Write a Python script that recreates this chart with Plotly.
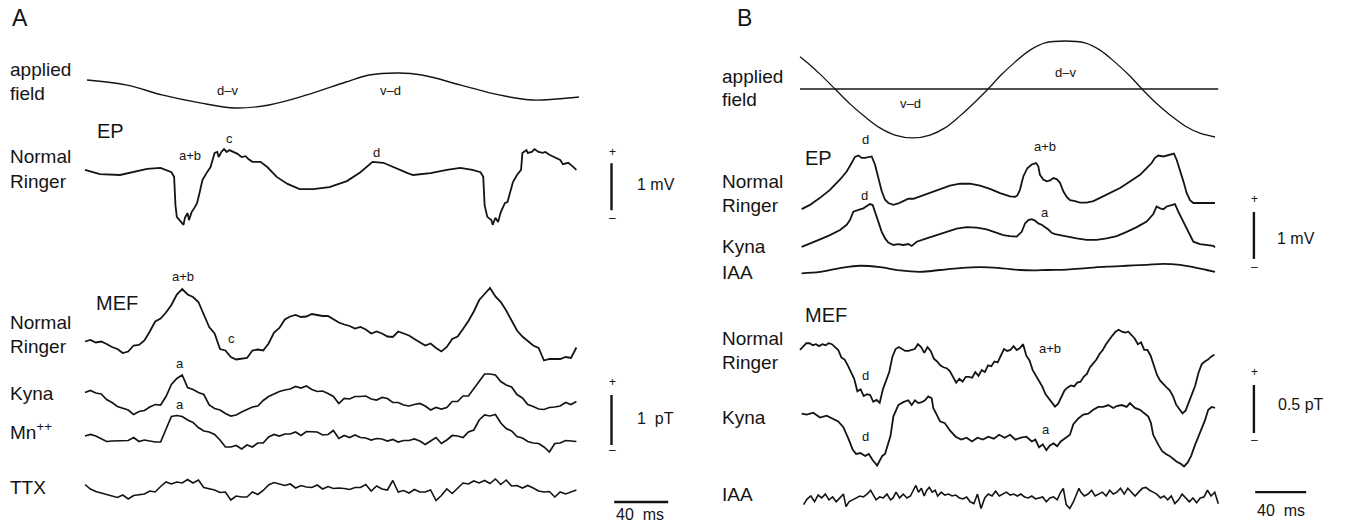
import plotly.graph_objects as go

# ======================= DATA =======================
# Panel A  (time in ms, EP in mV, MEF in pT, applied field in relative units)
A_FIELD_T = [1.5, 31.1, 57.0, 85.2, 111.1, 136.3, 164.4, 193.3, 210.4, 232.6, 249.6, 278.5, 306.7, 331.9, 348.9, 365.9]
A_FIELD = [0.59, 0.29, -0.29, -0.76, -1.06, -0.88, -0.29, 0.47, 0.88, 1.0, 0.88, 0.29, -0.29, -0.59, -0.53, -0.41]

A_EP_T = [0, 11, 26, 46, 56, 64, 66, 67, 68, 70, 73, 74, 76, 77, 79, 81, 83, 85, 87, 90,
          93, 96, 98, 99, 101, 103, 105, 107, 110, 113, 116, 119, 121, 124, 130, 135, 142, 150, 159, 169,
          181, 194, 204, 213, 221, 228, 239, 243, 256, 268, 278, 287, 293, 295, 296, 298, 301, 302, 304, 306,
          308, 311, 313, 315, 317, 320, 323, 324, 327, 328, 331, 333, 336, 339, 341, 344, 348, 352, 354, 358,
          361, 364]
A_EP = [0.11, 0.02, 0.0, 0.13, 0.15, 0.06, -0.04, -0.64, -0.89, -0.96, -1.06, -0.91, -0.81, -0.96, -0.79, -0.70, -0.60, -0.36, -0.11, 0.04,
        0.17, 0.47, 0.49, 0.38, 0.49, 0.55, 0.49, 0.53, 0.49, 0.45, 0.38, 0.40, 0.34, 0.28, 0.28, 0.17, -0.04, -0.19, -0.30, -0.30,
        -0.26, -0.13, 0.06, 0.28, 0.26, 0.17, 0.04, 0.0, 0.04, 0.11, 0.15, 0.11, 0.06, -0.04, -0.64, -0.89, -0.96, -1.06, -0.91, -1.0,
        -0.79, -0.60, -0.57, -0.36, -0.15, 0.0, 0.11, 0.47, 0.53, 0.47, 0.49, 0.55, 0.49, 0.47, 0.49, 0.43, 0.38, 0.32, 0.23, 0.26,
        0.19, 0.11]

A_MEF_DT = 4.0  # ms between samples
A_MEF_NORMAL = [0.01, 0.04, -0.01, 0.01, -0.04, -0.10, -0.14, -0.22, -0.19, -0.07,
                -0.06, 0.03, 0.21, 0.41, 0.47, 0.59, 0.74, 0.95, 1.06, 0.95,
                0.90, 0.80, 0.55, 0.30, 0.17, -0.14, -0.17, -0.30, -0.35, -0.34,
                -0.32, -0.17, -0.15, -0.17, -0.03, 0.19, 0.28, 0.45, 0.51, 0.54,
                0.50, 0.51, 0.56, 0.54, 0.52, 0.52, 0.46, 0.39, 0.35, 0.32,
                0.27, 0.30, 0.25, 0.17, 0.21, 0.17, 0.11, 0.10, 0.21, 0.17,
                0.13, 0.06, -0.01, -0.07, -0.03, -0.12, -0.19, -0.10, 0.06, 0.11,
                0.26, 0.42, 0.61, 0.84, 0.96, 1.08, 0.91, 0.80, 0.63, 0.42,
                0.23, 0.11, 0.01, -0.07, -0.12, -0.37, -0.34, -0.34, -0.34, -0.30,
                -0.32, -0.11]
A_MEF_KYNA = [0.01, 0.05, 0.00, -0.02, -0.13, -0.19, -0.27, -0.30, -0.34, -0.43,
              -0.37, -0.35, -0.28, -0.23, -0.24, -0.07, 0.17, 0.29, 0.36, 0.11,
              0.07, 0.01, -0.03, -0.24, -0.31, -0.34, -0.41, -0.46, -0.44, -0.38,
              -0.33, -0.28, -0.26, -0.15, -0.07, -0.02, 0.03, 0.06, 0.08, 0.13,
              0.10, 0.14, 0.07, 0.03, 0.04, -0.01, -0.07, -0.21, -0.11, -0.12,
              -0.07, -0.07, -0.06, -0.12, -0.14, -0.09, -0.11, -0.19, -0.19, -0.24,
              -0.26, -0.23, -0.21, -0.26, -0.34, -0.29, -0.32, -0.29, -0.17, -0.17,
              -0.06, -0.06, 0.09, 0.24, 0.38, 0.38, 0.36, 0.23, 0.16, 0.12,
              -0.03, -0.10, -0.23, -0.27, -0.32, -0.33, -0.29, -0.28, -0.26, -0.19,
              -0.23, -0.17]
A_MEF_MN = [0.00, 0.03, 0.00, -0.05, -0.11, -0.10, -0.10, -0.09, -0.09, -0.03,
            -0.11, -0.08, -0.10, -0.12, -0.12, 0.12, 0.39, 0.41, 0.39, 0.32,
            0.27, 0.17, 0.10, 0.08, 0.03, -0.08, -0.22, -0.22, -0.19, -0.26,
            -0.18, -0.22, -0.14, -0.14, -0.02, 0.03, 0.00, 0.04, 0.04, 0.08,
            0.01, 0.09, 0.08, 0.08, 0.02, 0.03, 0.11, -0.05, 0.01, -0.03,
            0.02, -0.03, -0.04, -0.08, -0.05, -0.06, -0.10, -0.07, -0.12, -0.09,
            -0.09, -0.06, -0.10, -0.17, -0.10, -0.03, -0.15, -0.08, 0.01, 0.00,
            -0.03, 0.08, 0.12, 0.32, 0.42, 0.40, 0.43, 0.26, 0.15, 0.10,
            -0.01, -0.04, -0.11, -0.14, -0.15, -0.22, -0.32, -0.15, -0.14, -0.09,
            -0.10, -0.11]
A_MEF_TTX = [0.17, 0.08, 0.03, 0.00, -0.03, -0.05, -0.09, -0.04, -0.12, -0.05,
             -0.03, -0.02, 0.04, 0.02, 0.13, 0.22, 0.18, 0.22, 0.20, 0.27,
             0.20, 0.26, 0.11, 0.09, 0.06, 0.01, 0.02, -0.14, -0.06, -0.08,
             -0.08, 0.02, -0.03, 0.05, 0.16, 0.21, 0.18, 0.15, 0.18, 0.10,
             0.15, 0.12, 0.11, 0.16, 0.08, 0.13, 0.09, 0.10, 0.09, 0.07,
             0.11, 0.11, 0.17, 0.04, 0.14, 0.08, 0.06, 0.25, 0.02, 0.05,
             0.00, 0.07, 0.02, 0.02, 0.06, -0.15, -0.05, 0.08, -0.01, 0.10,
             0.20, 0.18, 0.24, 0.20, 0.25, 0.19, 0.28, 0.17, 0.26, 0.14,
             0.15, 0.10, 0.15, 0.10, 0.04, 0.02, 0.03, -0.08, 0.02, -0.02,
             0.02, 0.06]

# Panel B
B_FIELD_T = [0, 7.8, 15.7, 27.5, 39.2, 51, 62.7, 74.5, 88.6, 102,
             113.7, 125.5, 137.3, 147.5, 156.9, 168.6, 180.4, 192.2, 207.8, 223.5,
             235.3, 247, 258.8, 268.2, 278.4, 290.2, 302, 313.7, 325.5]
B_FIELD = [0.67, 0.5, 0.31, 0, -0.31, -0.58, -0.81, -0.96, -1.02, -0.96,
           -0.81, -0.56, -0.27, 0, 0.27, 0.56, 0.81, 0.96, 1.0, 0.96,
           0.81, 0.56, 0.27, 0, -0.27, -0.54, -0.77, -0.92, -1.0]
B_FIELD_ZERO_T = [0, 328]
B_FIELD_ZERO = [0, 0]

B_EP_NORMAL_T = [1.3, 7.8, 15.7, 23.5, 31.4, 36.6, 40.5, 43.1, 45.8, 48.4,
                 51.0, 53.6, 56.2, 58.8, 61.4, 64.1, 66.7, 69.3, 73.2, 77.1,
                 81.0, 85.0, 88.9, 94.1, 102.0, 109.8, 117.6, 125.5, 133.3, 141.2,
                 149.0, 156.9, 164.7, 168.6, 170.5, 172.5, 175.2, 178.3, 181.7, 185.1,
                 186.9, 188.2, 190.8, 193.5, 196.1, 198.7, 201.3, 203.9, 206.5, 209.2,
                 211.8, 215.7, 219.6, 224.8, 230.1, 235.3, 243.1, 251.0, 258.8, 266.7,
                 271.9, 275.8, 278.4, 281.0, 285.0, 287.6, 290.2, 293.3, 295.4, 298.0,
                 300.7, 303.3, 305.9, 308.5, 313.7, 318.9, 325.5]
B_EP_NORMAL = [-0.13, -0.04, 0.11, 0.28, 0.50, 0.67, 0.85, 0.98, 1.01, 0.96,
               0.96, 0.98, 0.99, 0.82, 0.53, 0.25, 0.07, 0.0, -0.04, -0.01,
               0.04, 0.09, 0.09, 0.14, 0.21, 0.30, 0.37, 0.41, 0.41, 0.37,
               0.30, 0.21, 0.14, 0.13, 0.16, 0.28, 0.57, 0.74, 0.82, 0.85,
               0.78, 0.60, 0.50, 0.46, 0.48, 0.53, 0.51, 0.43, 0.25, 0.13,
               0.06, 0.04, 0.01, 0.01, 0.04, 0.11, 0.21, 0.32, 0.46, 0.60,
               0.74, 0.85, 0.96, 1.01, 0.99, 1.01, 1.03, 1.05, 0.92, 0.71,
               0.46, 0.21, 0.06, 0.0, 0.0, 0.0, 0.0]
B_EP_KYNA_T = [1.3, 7.8, 15.7, 23.5, 31.4, 36.6, 39.2, 41.8, 44.4, 47.1,
               49.7, 52.3, 54.9, 57.0, 58.8, 61.4, 64.1, 66.7, 69.3, 73.2,
               77.1, 81.0, 85.0, 87.6, 91.5, 99.3, 107.2, 115.0, 122.9, 130.7,
               138.6, 146.4, 154.2, 159.5, 164.7, 169.9, 173.9, 176.5, 179.1, 181.7,
               184.3, 186.9, 189.5, 192.2, 194.8, 197.4, 200.0, 203.9, 209.2, 217.0,
               224.8, 232.7, 240.5, 248.4, 256.2, 264.1, 271.9, 277.1, 279.7, 282.4,
               285.0, 287.6, 291.5, 294.1, 296.7, 300.7, 304.6, 308.5, 313.7, 318.9,
               324.2, 325.5]
B_EP_KYNA = [-0.04, 0.04, 0.12, 0.21, 0.32, 0.43, 0.53, 0.71, 0.74, 0.76,
             0.78, 0.82, 0.87, 0.85, 0.71, 0.50, 0.28, 0.14, 0.05, 0.0,
             0.02, 0.0, 0.02, -0.02, 0.07, 0.14, 0.21, 0.28, 0.35, 0.38,
             0.37, 0.33, 0.26, 0.21, 0.19, 0.18, 0.28, 0.46, 0.53, 0.55,
             0.52, 0.46, 0.43, 0.38, 0.33, 0.26, 0.23, 0.21, 0.18, 0.14,
             0.11, 0.11, 0.14, 0.19, 0.28, 0.38, 0.50, 0.66, 0.82, 0.78,
             0.76, 0.82, 0.85, 0.87, 0.71, 0.50, 0.28, 0.07, 0.02, 0.0,
             -0.02, -0.05]
B_EP_IAA_T = [1.3, 15.7, 31.4, 47.1, 62.7, 78.4, 94.1, 109.8, 125.5, 141.2,
              156.9, 172.5, 183.0, 193.5, 209.2, 224.8, 240.5, 256.2, 271.9, 285.0,
              298.0, 308.5, 318.9, 325.5]
B_EP_IAA = [-0.07, -0.04, 0.04, 0.09, 0.06, -0.01, -0.04, 0.0, 0.04, 0.06,
            0.04, 0.0, -0.01, 0.0, 0.01, 0.04, 0.07, 0.09, 0.11, 0.13,
            0.11, 0.06, 0.0, -0.04]

B_MEF_DT = 2.5  # ms between samples
B_MEF_NORMAL = [0.24, 0.27, 0.31, 0.31, 0.29, 0.30, 0.28, 0.30, 0.29, 0.31,
                0.30, 0.27, 0.24, 0.16, 0.14, 0.08, 0.01, -0.06, -0.19, -0.17,
                -0.24, -0.22, -0.23, -0.30, -0.28, -0.31, -0.17, -0.09, 0.01, 0.17,
                0.25, 0.27, 0.25, 0.23, 0.23, 0.24, 0.25, 0.30, 0.27, 0.21,
                0.27, 0.23, 0.15, 0.12, 0.08, 0.06, 0.05, 0.02, -0.04, -0.10,
                -0.06, -0.09, -0.04, -0.04, -0.05, 0.01, -0.03, 0.03, 0.01, 0.08,
                0.07, 0.12, 0.11, 0.18, 0.25, 0.23, 0.24, 0.28, 0.24, 0.26,
                0.30, 0.18, 0.13, 0.03, -0.03, -0.08, -0.14, -0.22, -0.26, -0.31,
                -0.35, -0.32, -0.25, -0.18, -0.15, -0.13, -0.14, -0.10, -0.09, -0.04,
                -0.01, 0.06, 0.10, 0.14, 0.20, 0.24, 0.30, 0.35, 0.39, 0.43,
                0.45, 0.43, 0.42, 0.43, 0.39, 0.36, 0.30, 0.32, 0.24, 0.24,
                0.18, 0.08, -0.02, -0.08, -0.12, -0.15, -0.18, -0.24, -0.33, -0.38,
                -0.42, -0.39, -0.30, -0.23, -0.13, 0.00, 0.09, 0.12, 0.14, 0.17,
                0.19]
B_MEF_KYNA_T = [1.3, 5.3, 10.4, 15.7, 20.9, 26.1, 30.0, 34.0, 35.5, 38.3,
                41.2, 44.0, 47.4, 51.1, 54.0, 56.8, 60.5, 62.4, 64.5, 66.7,
                69.0, 71.0, 73.2, 77.1, 81.0, 84.9, 87.6, 90.2, 92.8, 95.5,
                98.0, 100.6, 103.3, 104.5, 107.2, 109.8, 113.6, 117.9, 122.1, 126.4,
                130.7, 134.9, 139.2, 143.5, 147.7, 152.0, 156.2, 160.5, 164.8, 169.0,
                173.3, 177.6, 181.8, 184.6, 187.5, 190.4, 193.2, 196.0, 198.9, 201.7,
                204.5, 208.8, 211.7, 214.4, 218.3, 222.2, 226.1, 230.0, 234.0, 237.9,
                241.8, 245.7, 248.4, 252.3, 256.2, 258.8, 262.7, 266.7, 270.6, 273.2,
                275.3, 277.0, 281.3, 284.1, 287.0, 289.8, 292.6, 295.5, 298.4, 301.2,
                304.0, 306.8, 309.7, 312.5, 315.5, 317.6, 320.2, 322.9, 325.5]
B_MEF_KYNA = [0.17, 0.16, 0.18, 0.13, 0.15, 0.12, 0.09, 0.03, -0.01, -0.10,
              -0.20, -0.25, -0.24, -0.27, -0.25, -0.31, -0.37, -0.32, -0.27, -0.25,
              -0.16, -0.06, 0.14, 0.26, 0.29, 0.31, 0.26, 0.31, 0.28, 0.29,
              0.31, 0.35, 0.33, 0.23, 0.16, 0.09, 0.07, -0.01, -0.07, -0.10,
              -0.08, -0.12, -0.08, -0.10, -0.07, -0.09, -0.05, -0.08, -0.05, -0.10,
              -0.08, -0.07, -0.12, -0.10, -0.18, -0.15, -0.21, -0.16, -0.14, -0.17,
              -0.12, -0.08, -0.05, 0.06, 0.12, 0.16, 0.17, 0.21, 0.24, 0.24,
              0.26, 0.23, 0.25, 0.26, 0.24, 0.28, 0.23, 0.21, 0.17, 0.14,
              0.07, -0.05, -0.16, -0.22, -0.25, -0.27, -0.30, -0.33, -0.35, -0.38,
              -0.34, -0.27, -0.16, -0.07, 0.03, 0.10, 0.21, 0.24, 0.23]
B_MEF_IAA_T = [2.8, 5.7, 8.5, 11.4, 14.2, 17.0, 19.9, 22.7, 25.6, 28.4,
               31.3, 34.1, 36.1, 38.4, 41.2, 44.0, 46.9, 49.7, 52.6, 55.4,
               57.7, 59.7, 62.5, 65.3, 68.2, 71.0, 73.0, 75.3, 78.1, 81.0,
               83.8, 86.6, 88.9, 90.9, 92.9, 95.2, 97.4, 99.4, 101.4, 103.7,
               106.0, 108.0, 110.8, 113.6, 116.5, 119.3, 122.2, 125.0, 127.8, 130.7,
               133.5, 136.4, 139.2, 142.0, 144.9, 147.7, 150.6, 153.4, 156.3, 159.1,
               161.9, 164.8, 167.6, 170.5, 173.3, 176.1, 179.0, 181.8, 184.7, 187.5,
               190.3, 193.2, 196.0, 198.9, 201.7, 204.5, 206.5, 208.8, 211.6, 214.5,
               217.3, 218.8, 220.2, 223.0, 225.9, 228.7, 231.5, 234.4, 237.2, 240.1,
               242.9, 245.7, 248.6, 251.4, 254.3, 257.1, 259.9, 262.8, 265.6, 268.5,
               271.3, 274.1, 277.0, 279.8, 282.7, 285.5, 288.4, 291.2, 294.0, 296.9,
               299.7, 302.6, 305.4, 308.2, 311.1, 313.9, 316.8, 319.6, 322.4, 325.3,
               328.1]
B_MEF_IAA = [-0.09, -0.03, 0, -0.06, 0.01, -0.02, 0.02, -0.04, -0.01, -0.06,
             -0.02, 0.02, -0.11, -0.06, -0.04, -0.02, 0, -0.01, 0.02, 0.06,
             0, -0.04, -0.01, -0.02, 0.02, -0.04, -0.02, 0.04, -0.02, 0.02,
             -0.02, 0, 0.06, 0.11, 0.04, 0.08, 0, 0.06, 0.09, 0.04,
             0.06, 0, 0.04, 0.01, 0.02, 0, 0.01, -0.02, -0.03, -0.01,
             -0.06, -0.08, 0.02, -0.13, -0.02, 0.02, 0, 0.05, 0, 0.02,
             0.04, 0.01, 0.02, 0, 0.02, -0.01, -0.02, 0, -0.03, -0.02,
             -0.01, -0.06, -0.02, -0.01, -0.04, 0.04, 0.08, -0.09, -0.13, -0.06,
             0.02, 0.08, 0.04, 0, 0.02, 0.06, 0, 0.02, 0.04, 0,
             0.06, 0.02, 0.04, 0.08, 0.02, 0.08, 0.04, 0, 0.04, 0.08,
             0.09, 0.06, 0.04, 0.02, -0.02, 0, -0.04, 0, -0.08, -0.04,
             0.02, -0.02, -0.06, -0.02, -0.07, -0.02, -0.01, 0.06, 0, 0.04,
             -0.08]

# Calibration bars (in data units)
A_BAR_MV = 1.0
A_BAR_PT = 1.0
B_BAR_MV = 1.0
B_BAR_PT = 0.5
TIME_BAR_MS = 40

# ======================= LAYOUT =======================
W, H = 1348, 526
FONT = "Liberation Sans, Arial, Helvetica, sans-serif"
INK = "#141414"

# panel: (left pixel of t=0, pixels per ms)
PANELS = {"A": (85, 1.35), "B": (800, 1.275)}
# row name: (panel, baseline pixel, pixels per unit, line width, shape)
ROWS = {
    "A_field":  ("A", 90, 17, 1.4, "spline"),
    "A_ep":     ("A", 175, 47, 1.8, "linear"),
    "A_mef_nr": ("A", 342, 50, 1.8, "linear"),
    "A_kyna":   ("A", 393, 50, 1.7, "linear"),
    "A_mn":     ("A", 436, 50, 1.7, "linear"),
    "A_ttx":    ("A", 493, 50, 1.6, "linear"),
    "B_field":  ("B", 89, 48, 1.3, "spline"),
    "B_ep_nr":  ("B", 203, 47, 1.8, "linear"),
    "B_ep_ky":  ("B", 245, 47, 1.8, "linear"),
    "B_ep_iaa": ("B", 270, 47, 1.8, "spline"),
    "B_mef_nr": ("B", 373, 96, 1.8, "linear"),
    "B_mef_ky": ("B", 430, 96, 1.8, "linear"),
    "B_mef_iaa": ("B", 496, 96, 1.6, "linear"),
}

fig = go.Figure()

xaxis_id = {"A": "x", "B": "x2"}
for name, (x0, s) in PANELS.items():
    key = "xaxis" if name == "A" else "xaxis2"
    ax = dict(range=[-x0 / s, (W - x0) / s], visible=False, showgrid=False,
              zeroline=False, fixedrange=True, domain=[0, 1])
    if name == "B":
        ax["overlaying"] = "x"
    fig.layout[key] = ax

row_axis = {}
for i, (name, (panel, base, gain, lw, shp)) in enumerate(ROWS.items()):
    idx = "" if i == 0 else str(i + 1)
    key = "yaxis" + idx
    ax = dict(range=[(base - H) / gain, base / gain], visible=False, showgrid=False,
              zeroline=False, fixedrange=True, domain=[0, 1], anchor=xaxis_id[panel])
    if i > 0:
        ax["overlaying"] = "y"
    fig.layout[key] = ax
    row_axis[name] = "y" + idx


def add_line(row, t, v, width=None, shape=None):
    panel, base, gain, lw, shp = ROWS[row]
    fig.add_trace(go.Scatter(
        x=t, y=v, mode="lines", xaxis=xaxis_id[panel], yaxis=row_axis[row],
        line=dict(color=INK, width=width or lw, shape=shape or shp),
        hoverinfo="skip", showlegend=False))


def grid(n, dt):
    return [k * dt for k in range(n)]


# Panel A traces
add_line("A_field", A_FIELD_T, A_FIELD)
add_line("A_ep", A_EP_T, A_EP)
add_line("A_mef_nr", grid(len(A_MEF_NORMAL), A_MEF_DT), A_MEF_NORMAL)
add_line("A_kyna", grid(len(A_MEF_KYNA), A_MEF_DT), A_MEF_KYNA)
add_line("A_mn", grid(len(A_MEF_MN), A_MEF_DT), A_MEF_MN)
add_line("A_ttx", grid(len(A_MEF_TTX), A_MEF_DT), A_MEF_TTX)

# Panel B traces
add_line("B_field", B_FIELD_T, B_FIELD)
add_line("B_field", B_FIELD_ZERO_T, B_FIELD_ZERO, shape="linear")
add_line("B_ep_nr", B_EP_NORMAL_T, B_EP_NORMAL)
add_line("B_ep_ky", B_EP_KYNA_T, B_EP_KYNA)
add_line("B_ep_iaa", B_EP_IAA_T, B_EP_IAA)
add_line("B_mef_nr", grid(len(B_MEF_NORMAL), B_MEF_DT), B_MEF_NORMAL)
add_line("B_mef_ky", B_MEF_KYNA_T, B_MEF_KYNA)
add_line("B_mef_iaa", B_MEF_IAA_T, B_MEF_IAA)

# Calibration bars: (row, time of bar, lower value)
add_line("A_ep", [390, 390], [-0.75, -0.75 + A_BAR_MV], width=2.4, shape="linear")
add_line("A_kyna", [390, 390], [-1.04, -1.04 + A_BAR_PT], width=2.4, shape="linear")
add_line("A_ttx", [392, 392 + TIME_BAR_MS], [-0.18, -0.18], width=2.4, shape="linear")
add_line("B_ep_nr", [356, 356], [-1.19, -1.19 + B_BAR_MV], width=2.4, shape="linear")
add_line("B_mef_nr", [356, 356], [-0.625, -0.625 + B_BAR_PT], width=2.4, shape="linear")
add_line("B_mef_iaa", [357, 357 + TIME_BAR_MS], [0.04, 0.04], width=2.4, shape="linear")

# ======================= TEXT =======================
# (text, x px, y px, size, anchor)
LABELS = [
    ("A", 10, 18, 23, "left"), ("B", 735, 18, 23, "left"),
    # panel A row labels
    ("applied", 8, 69, 19, "left"), ("field", 8, 93, 19, "left"),
    ("EP", 95, 131, 20, "left"),
    ("Normal", 8, 157, 19, "left"), ("Ringer", 8, 181, 19, "left"),
    ("MEF", 94, 303, 20, "left"),
    ("Normal", 8, 322, 19, "left"), ("Ringer", 8, 346, 19, "left"),
    ("Kyna", 8, 393, 19, "left"), ("Mn<sup>++</sup>", 8, 431, 19, "left"),
    ("TTX", 8, 487, 19, "left"),
    # panel A component labels
    ("d\u2013v", 227, 90, 13, "center"), ("v\u2013d", 390, 90, 13, "center"),
    ("a+b", 190, 155, 13, "center"), ("c", 229, 138, 13, "center"), ("d", 376, 152, 13, "center"),
    ("a+b", 183, 276, 13, "center"), ("c", 231, 338, 13, "center"),
    ("a", 180, 363, 13, "center"), ("a", 180, 404, 13, "center"),
    # panel A calibration
    ("+", 612, 152, 12, "center"), ("\u2013", 612, 218, 12, "center"), ("1 mV", 635, 185, 16, "left"),
    ("+", 612, 382, 12, "center"), ("\u2013", 612, 450, 12, "center"), ("1\u00a0 pT", 635, 418, 16, "left"),
    ("40\u00a0 ms", 614, 514, 16, "left"),
    # panel B row labels
    ("applied", 720, 76, 19, "left"), ("field", 720, 99, 19, "left"),
    ("EP", 803, 158, 20, "left"),
    ("Normal", 720, 181, 19, "left"), ("Ringer", 720, 205, 19, "left"),
    ("Kyna", 720, 247, 19, "left"), ("IAA", 720, 272, 19, "left"),
    ("MEF", 803, 315, 20, "left"),
    ("Normal", 720, 338, 19, "left"), ("Ringer", 720, 362, 19, "left"),
    ("Kyna", 720, 417, 19, "left"), ("IAA", 720, 494, 19, "left"),
    # panel B component labels
    ("d\u2013v", 1065, 72, 13, "center"), ("v\u2013d", 910, 103, 13, "center"),
    ("d", 865, 139, 13, "center"), ("a+b", 1045, 146, 13, "center"),
    ("d", 864, 195, 13, "center"), ("a", 1045, 213, 13, "center"),
    ("d", 865, 375, 13, "center"), ("a+b", 1050, 348, 13, "center"),
    ("d", 865, 436, 13, "center"), ("a", 1046, 429, 13, "center"),
    # panel B calibration
    ("+", 1254, 199, 12, "center"), ("\u2013", 1254, 267, 12, "center"), ("1 mV", 1275, 238, 16, "left"),
    ("+", 1254, 372, 12, "center"), ("\u2013", 1254, 440, 12, "center"), ("0.5 pT", 1276, 404, 16, "left"),
    ("40\u00a0 ms", 1255, 510, 16, "left"),
]

annotations = []
for text, px, py, size, anchor in LABELS:
    annotations.append(dict(
        text=text, x=px / W, y=1 - py / H, xref="paper", yref="paper",
        xanchor=anchor, yanchor="middle", showarrow=False,
        font=dict(family=FONT, size=size, color=INK)))

fig.update_layout(
    width=W, height=H, margin=dict(l=0, r=0, t=0, b=0),
    paper_bgcolor="white", plot_bgcolor="white",
    annotations=annotations, showlegend=False,
)

# remove the browser's default 8px body margin so the figure sits at the page origin
fig.write_html("out.html", config={"displayModeBar": False, "staticPlot": True},
               post_script="document.body.style.margin='0px';")
